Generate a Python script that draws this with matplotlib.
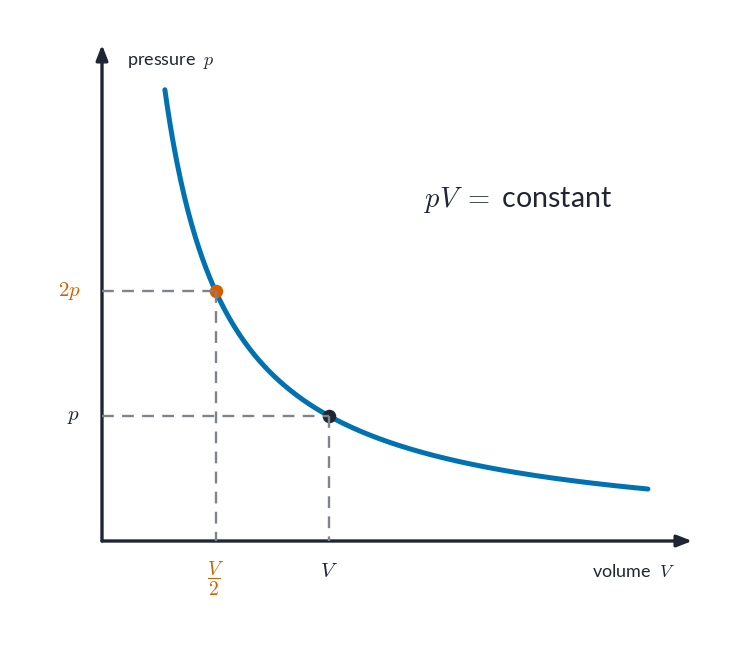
import matplotlib
matplotlib.use("Agg")
import matplotlib.pyplot as plt
import numpy as np

plt.rcParams['font.family'] = ['Lato', 'DejaVu Sans']
plt.rcParams['mathtext.fontset'] = 'cm'

# isotherm: p * V = const (in units of the marked point V, p)
pv_constant = 1.0
v_start, v_end = 0.277, 2.405

# marked points (volume, pressure) and their tick labels
point_v = [0.5, 1.0]
point_p = [2.0, 1.0]
point_colors = ['#d55e00', '#1f2633']
x_tick_labels = [r'$\dfrac{V}{2}$', r'$V$']
y_tick_labels = [r'$2p$', r'$p$']

axis_color = '#1f2633'
curve_color = '#0072b2'
dash_color = '#7f848c'

fig = plt.figure(figsize=(7.36, 6.49), dpi=100)
ax = fig.add_axes([0, 0, 1, 1])
ax.set_xlim(-102 / 227, (736 - 102) / 227)
ax.set_ylim(-(649 - 541) / 125, 541 / 125)
ax.axis('off')

# axes with arrows
arrow = dict(arrowstyle='-|>,head_length=0.9,head_width=0.35', color=axis_color,
             lw=2.4, shrinkA=0, shrinkB=0)
ax.annotate('', xy=(0, 3.97), xytext=(0, 0), arrowprops=arrow)
ax.annotate('', xy=(2.60, 0), xytext=(0, 0), arrowprops=arrow)

# curve
v = np.linspace(v_start, v_end, 400)
ax.plot(v, pv_constant / v, color=curve_color, lw=3.6, solid_capstyle='round', zorder=3)

# points, guide lines, tick labels
for pv, pp, c in zip(point_v, point_p, point_colors):
    ax.scatter([pv], [pp], s=95, color=c, zorder=4, linewidths=0)
    ax.plot([0, pv], [pp, pp], color=dash_color, lw=1.7, dashes=(5, 3.5), zorder=5)
    ax.plot([pv, pv], [pp, 0], color=dash_color, lw=1.7, dashes=(5, 3.5), zorder=5)

ax.text(point_v[0], -0.30, x_tick_labels[0], color=point_colors[0], fontsize=14,
        ha='center', va='center')
ax.text(point_v[1], -0.24, x_tick_labels[1], color=axis_color, fontsize=15,
        ha='center', va='center')
ax.text(-0.095, point_p[0], y_tick_labels[0], color=point_colors[0], fontsize=15,
        ha='right', va='center')
ax.text(-0.095, point_p[1], y_tick_labels[1], color=axis_color, fontsize=15,
        ha='right', va='center')

# axis titles and the law
ax.text(0.11, 3.83, r'pressure $\;p$', color=axis_color, fontsize=13, ha='left', va='center')
ax.text(2.525, -0.245, r'volume $\;V$', color=axis_color, fontsize=13, ha='right', va='center')
ax.text(1.833, 2.73, r'$pV\;=\;$constant', color=axis_color, fontsize=20.5, ha='center', va='center')

fig.savefig('out.png', dpi=100)
